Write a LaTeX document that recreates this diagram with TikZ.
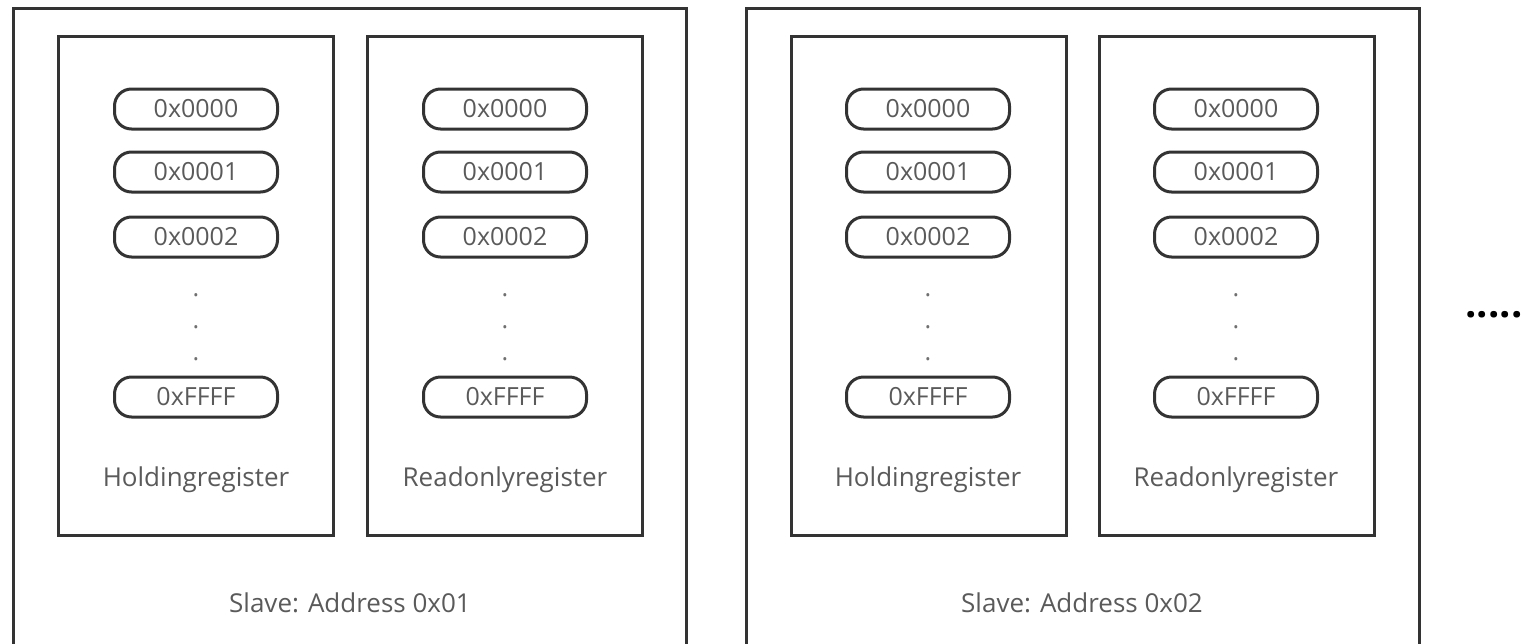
\documentclass[tikz,border=0pt]{standalone}
\usepackage{fontspec}
\setmainfont{Open Sans}
\definecolor{boxline}{HTML}{333333}
\definecolor{labeltext}{HTML}{5A5A5A}
\definecolor{dotgray}{HTML}{707070}
\tikzset{
  frame/.style={draw=boxline, line width=3pt},
  register/.style={draw=boxline, line width=3pt, rounded corners=17pt,
    minimum width=163pt, minimum height=40pt, inner sep=0pt,
    text=labeltext, font=\fontsize{25}{30}\selectfont},
  banklabel/.style={text=labeltext, font=\fontsize{26}{30}\selectfont},
  vdot/.style={text=dotgray, anchor=base, inner sep=0pt, font=\fontsize{25}{30}\selectfont}
}
\begin{document}
\begin{tikzpicture}[x=1pt,y=-1pt]
  \clip (0,0) rectangle (1521,643);

  % Slave 0x01
  \draw[frame] (13,8) rectangle (686,680);
  \draw[frame] (58,36) rectangle (333,535);
  \draw[frame] (367,36) rectangle (642,535);

  \node[register] (h1a) at (196,109) {0x0000};
  \node[register] (h1b) at (196,172) {0x0001};
  \node[register] (h1c) at (196,237) {0x0002};
  \node[vdot] (h1d) at (196,296) {.};
  \node[vdot] (h1e) at (196,328) {.};
  \node[vdot] (h1f) at (196,360) {.};
  \node[register] (h1g) at (196,397) {0xFFFF};
  \node[banklabel] (h1name) at (196,480) {Holdingregister};

  \node[register] (r1a) at (505,109) {0x0000};
  \node[register] (r1b) at (505,172) {0x0001};
  \node[register] (r1c) at (505,237) {0x0002};
  \node[vdot] (r1d) at (505,296) {.};
  \node[vdot] (r1e) at (505,328) {.};
  \node[vdot] (r1f) at (505,360) {.};
  \node[register] (r1g) at (505,397) {0xFFFF};
  \node[banklabel] (r1name) at (505,480) {Readonlyregister};

  \node[banklabel] (slave1) at (350,603) {Slave: Address 0x01};

  % Slave 0x02
  \draw[frame] (746,8) rectangle (1419,680);
  \draw[frame] (791,36) rectangle (1066,535);
  \draw[frame] (1099,36) rectangle (1374,535);

  \node[register] (h2a) at (928,109) {0x0000};
  \node[register] (h2b) at (928,172) {0x0001};
  \node[register] (h2c) at (928,237) {0x0002};
  \node[vdot] (h2d) at (928,296) {.};
  \node[vdot] (h2e) at (928,328) {.};
  \node[vdot] (h2f) at (928,360) {.};
  \node[register] (h2g) at (928,397) {0xFFFF};
  \node[banklabel] (h2name) at (928,480) {Holdingregister};

  \node[register] (r2a) at (1236,109) {0x0000};
  \node[register] (r2b) at (1236,172) {0x0001};
  \node[register] (r2c) at (1236,237) {0x0002};
  \node[vdot] (r2d) at (1236,296) {.};
  \node[vdot] (r2e) at (1236,328) {.};
  \node[vdot] (r2f) at (1236,360) {.};
  \node[register] (r2g) at (1236,397) {0xFFFF};
  \node[banklabel] (r2name) at (1236,480) {Readonlyregister};

  \node[banklabel] (slave2) at (1082,603) {Slave: Address 0x02};

  % more slaves
  \node[anchor=base, inner sep=0pt, font=\fontsize{40}{40}\selectfont\bfseries] (more) at (1494,317) {.....};
\end{tikzpicture}
\end{document}
